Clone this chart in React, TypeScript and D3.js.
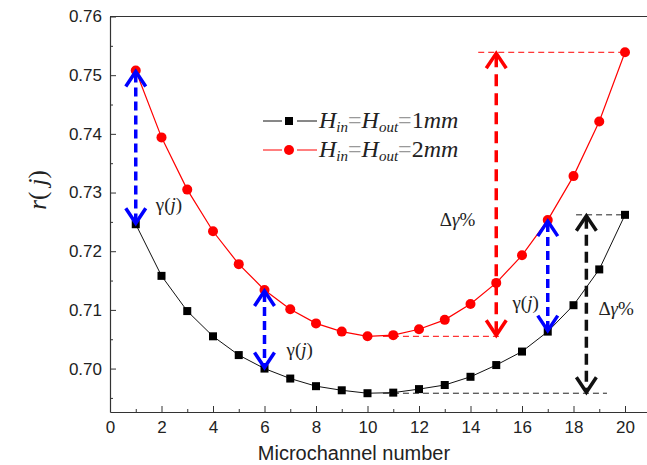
import React, { useEffect, useRef } from 'react';
import * as d3 from 'd3';

// r(j) for each microchannel
const channels = d3.range(1, 21);
const r1mm = [0.7246, 0.7158, 0.7098, 0.7055, 0.7023, 0.7000, 0.6983, 0.6970, 0.6963, 0.6958,
  0.6959, 0.6965, 0.6972, 0.6986, 0.7006, 0.7029, 0.7063, 0.7108, 0.7169, 0.7262];
const r2mm = [0.7508, 0.7394, 0.7305, 0.7234, 0.7178, 0.7134, 0.7101, 0.7077, 0.7063, 0.7055,
  0.7057, 0.7067, 0.7083, 0.7110, 0.7146, 0.7193, 0.7253, 0.7328, 0.7421, 0.7539];
const xTicks = [0, 2, 4, 6, 8, 10, 12, 14, 16, 18, 20];
const yTicks = [0.70, 0.71, 0.72, 0.73, 0.74, 0.75, 0.76];
// channels where the gamma(j) arrows are drawn
const gammaAt = [1, 6, 17];

const W = 647, H = 465;

export default function App() {
  const ref = useRef<SVGSVGElement>(null);

  useEffect(() => {
    const svg = d3.select(ref.current);
    svg.selectAll('*').remove();

    const x = d3.scaleLinear().domain([0, 22]).range([110, 110 + 22 * 25.75]);
    const y = d3.scaleLinear().domain([0.6926, 0.76]).range([412, 16.5]);
    const tickFont = 'Liberation Sans, Arial, sans-serif';
    const serif = 'Liberation Serif, Times New Roman, serif';

    // frame: top border
    svg.append('line')
      .attr('x1', x(0)).attr('x2', W + 20)
      .attr('y1', y(0.76)).attr('y2', y(0.76))
      .attr('stroke', '#333').attr('stroke-width', 1.2);

    // x axis
    const gx = svg.append('g').attr('transform', `translate(0,${y.range()[0]})`);
    gx.call(d3.axisBottom(x).tickValues(xTicks).tickFormat(d3.format('d'))
      .tickSizeInner(-6).tickSizeOuter(0).tickPadding(9));
    svg.append('g').attr('transform', `translate(0,${y.range()[0]})`)
      .call(d3.axisBottom(x).tickValues(d3.range(1, 22, 2)).tickFormat(() => '')
        .tickSizeInner(-3).tickSizeOuter(0))
      .select('.domain').remove();

    // y axis
    const gy = svg.append('g').attr('transform', `translate(${x(0)},0)`);
    gy.call(d3.axisLeft(y).tickValues(yTicks).tickFormat(d3.format('.2f'))
      .tickSizeInner(-6).tickSizeOuter(0).tickPadding(8));
    svg.append('g').attr('transform', `translate(${x(0)},0)`)
      .call(d3.axisLeft(y).tickValues([0.695, 0.705, 0.715, 0.725, 0.735, 0.745, 0.755]).tickFormat(() => '')
        .tickSizeInner(-3).tickSizeOuter(0))
      .select('.domain').remove();

    svg.selectAll('.domain').attr('stroke', '#333').attr('stroke-width', 1.2);
    svg.selectAll('.tick line').attr('stroke', '#333');
    svg.selectAll('.tick text').attr('font-family', tickFont).attr('font-size', 17).attr('fill', '#222');

    // axis titles
    svg.append('text')
      .attr('x', 354).attr('y', 460).attr('text-anchor', 'middle')
      .attr('font-family', tickFont).attr('font-size', 20).attr('fill', '#222')
      .text('Microchannel number');
    const yl = svg.append('text')
      .attr('transform', 'translate(46,190) rotate(-90)')
      .attr('text-anchor', 'middle')
      .attr('font-family', serif).attr('font-size', 25).attr('fill', '#222');
    yl.append('tspan').attr('font-style', 'italic').text('r');
    yl.append('tspan').text('( ');
    yl.append('tspan').attr('font-style', 'italic').text('j');
    yl.append('tspan').text(')');

    // guide lines (thin dashed)
    const guide = (x1: number, x2: number, v: number, color: string) =>
      svg.append('line')
        .attr('x1', x(x1)).attr('x2', x(x2)).attr('y1', y(v)).attr('y2', y(v))
        .attr('stroke', color).attr('stroke-width', 1).attr('stroke-dasharray', '6,4');
    guide(14.3, 20, r2mm[19], '#ff0000');
    guide(10.6, 15.15, d3.min(r2mm)!, '#ff0000');
    guide(18.1, 20, r1mm[19], '#222');
    guide(10.6, 19.3, d3.min(r1mm)!, '#222');

    // series
    const line = d3.line<number>().x((d, i) => x(channels[i])).y(d => y(d));
    svg.append('path').datum(r1mm).attr('d', line).attr('fill', 'none').attr('stroke', '#111').attr('stroke-width', 1);
    svg.append('path').datum(r2mm).attr('d', line).attr('fill', 'none').attr('stroke', '#ff0000').attr('stroke-width', 1.2);
    svg.append('g').selectAll('rect').data(r1mm).join('rect')
      .attr('x', (d, i) => x(channels[i]) - 4).attr('y', d => y(d) - 4)
      .attr('width', 8).attr('height', 8).attr('fill', '#000');
    svg.append('g').selectAll('circle').data(r2mm).join('circle')
      .attr('cx', (d, i) => x(channels[i])).attr('cy', d => y(d))
      .attr('r', 5).attr('fill', '#ff0000');

    // double arrows with open chevron heads
    const dblArrow = (j: number, top: number, bot: number, color: string, dash: string) => {
      const g = svg.append('g').attr('stroke', color).attr('fill', 'none')
        .attr('stroke-width', 3.5).attr('stroke-linecap', 'butt');
      const cx = x(j), y1 = y(top), y2 = y(bot);
      g.append('line').attr('x1', cx).attr('x2', cx).attr('y1', y1 + 3).attr('y2', y2 - 3)
        .attr('stroke-dasharray', dash);
      g.append('path').attr('d', `M${cx - 10},${y1 + 16}L${cx},${y1 + 1}L${cx + 10},${y1 + 16}`);
      g.append('path').attr('d', `M${cx - 10},${y2 - 16}L${cx},${y2 - 1}L${cx + 10},${y2 - 16}`);
    };
    gammaAt.forEach(j => dblArrow(j, r2mm[j - 1], r1mm[j - 1], '#0000ff', '9,5'));
    dblArrow(15, r2mm[19], d3.min(r2mm)!, '#ff0000', '12,7');
    dblArrow(18.5, r1mm[19], d3.min(r1mm)!, '#111', '11,6');

    // labels
    const gammaLabel = (px: number, py: number, anchor: string) => {
      const t = svg.append('text').attr('x', px).attr('y', py).attr('text-anchor', anchor)
        .attr('font-family', serif).attr('font-size', 19).attr('fill', '#222');
      t.append('tspan').text('γ(');
      t.append('tspan').attr('font-style', 'italic').text('j');
      t.append('tspan').text(')');
    };
    gammaLabel(x(1) + 20, y(r1mm[0]) - 13, 'start');
    gammaLabel(x(6) + 22, y(r1mm[5]) - 13, 'start');
    gammaLabel(x(17) - 9, y(r1mm[16]) - 23, 'end');

    const deltaLabel = (px: number, py: number, anchor: string) => {
      const t = svg.append('text').attr('x', px).attr('y', py).attr('text-anchor', anchor)
        .attr('font-family', serif).attr('font-size', 19).attr('fill', '#222');
      t.append('tspan').text('Δ');
      t.append('tspan').attr('font-style', 'italic').text('γ');
      t.append('tspan').text('%');
    };
    deltaLabel(x(15) - 21, 226, 'end');
    deltaLabel(x(18.5) + 12, 315, 'start');

    // legend
    const legend = [
      { color: '#111', mark: 'rect', size: '1', ly: 121 },
      { color: '#ff0000', mark: 'circle', size: '2', ly: 150 },
    ];
    legend.forEach(l => {
      const g = svg.append('g');
      g.append('line').attr('x1', 263).attr('x2', 282).attr('y1', l.ly).attr('y2', l.ly).attr('stroke', l.color);
      g.append('line').attr('x1', 297).attr('x2', 317).attr('y1', l.ly).attr('y2', l.ly).attr('stroke', l.color);
      if (l.mark === 'rect') {
        g.append('rect').attr('x', 285).attr('y', l.ly - 4).attr('width', 8).attr('height', 8).attr('fill', '#000');
      } else {
        g.append('circle').attr('cx', 289).attr('cy', l.ly).attr('r', 5).attr('fill', '#ff0000');
      }
      const t = g.append('text').attr('x', 319).attr('y', l.ly + 7)
        .attr('font-family', serif).attr('font-size', 24).attr('fill', '#222');
      t.append('tspan').attr('font-style', 'italic').text('H');
      t.append('tspan').attr('font-style', 'italic').attr('font-size', 15).attr('dy', 4).text('in');
      t.append('tspan').attr('fill', '#999').attr('dy', -4).text('=');
      t.append('tspan').attr('font-style', 'italic').text('H');
      t.append('tspan').attr('font-style', 'italic').attr('font-size', 15).attr('dy', 4).text('out');
      t.append('tspan').attr('fill', '#999').attr('dy', -4).text('=');
      t.append('tspan').text(l.size);
      t.append('tspan').attr('font-style', 'italic').text('mm');
    });
  }, []);

  return (
    <svg ref={ref} width={W} height={H}
      style={{ position: 'absolute', left: 0, top: 0, background: '#fff' }} />
  );
}
